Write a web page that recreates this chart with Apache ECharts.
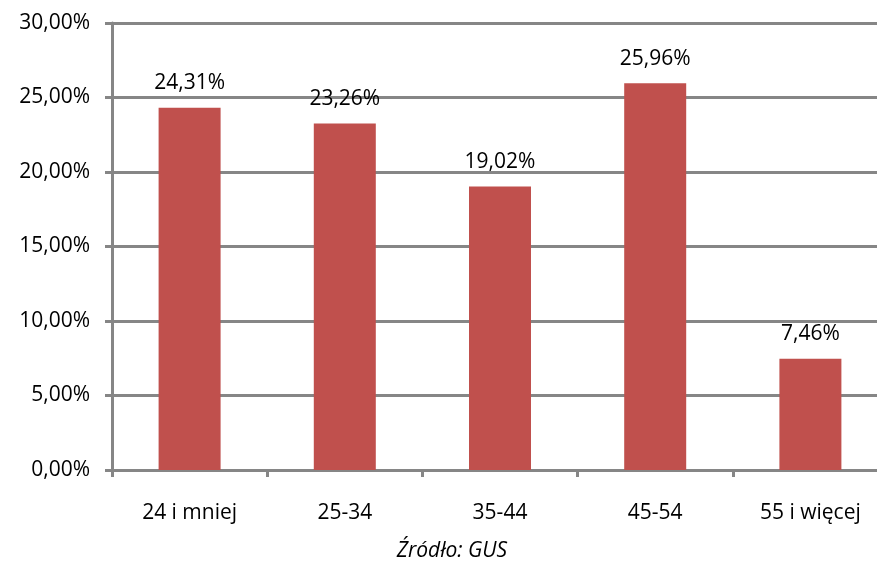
<!DOCTYPE html>
<html><head><meta charset="utf-8">
<script src="https://cdn.jsdelivr.net/npm/echarts@6/dist/echarts.min.js"></script>
<style>html,body{margin:0;padding:0;background:#fff}#c{width:877px;height:564px}</style>
</head><body><div id="c"></div>
<script>
const categories = ["24 i mniej", "25-34", "35-44", "45-54", "55 i więcej"];
const values = [24.31, 23.26, 19.02, 25.96, 7.46];
const sourceText = "Źródło: GUS";
const fmt = v => v.toFixed(2).replace('.', ',') + '%';
const chart = echarts.init(document.getElementById('c'));
const font = '"Open Sans", "Noto Sans", sans-serif';
chart.setOption({
  animation: false,
  grid: { left: 112, width: 776, top: 23, bottom: 94, outerBoundsMode: 'none', containLabel: false },
  xAxis: {
    type: 'category', data: categories,
    axisLine: { lineStyle: { color: '#868686', width: 3 } },
    axisTick: { show: true, length: 7, lineStyle: { color: '#868686', width: 3 } },
    axisLabel: { color: '#000', fontSize: 21, fontFamily: font, margin: 33 }
  },
  yAxis: {
    type: 'value', min: 0, max: 30, interval: 5,
    axisLine: { show: true, lineStyle: { color: '#868686', width: 3 } },
    axisTick: { show: true, length: 7, lineStyle: { color: '#868686', width: 3 } },
    splitLine: { lineStyle: { color: '#868686', width: 3 } },
    axisLabel: { color: '#000', fontSize: 21, fontFamily: font, margin: 22, formatter: v => fmt(v) }
  },
  series: [{
    type: 'bar', data: values, barWidth: 62,
    itemStyle: { color: '#C0504D' },
    label: { show: true, position: 'top', distance: 14, color: '#000', fontSize: 21, fontFamily: font, formatter: p => fmt(p.value) }
  }],
  graphic: [{
    type: 'text', x: 452, y: 551,
    style: { text: sourceText, fill: '#000', font: 'italic 21px ' + font, textAlign: 'center', textVerticalAlign: 'middle' }
  }]
});
</script></body></html>
